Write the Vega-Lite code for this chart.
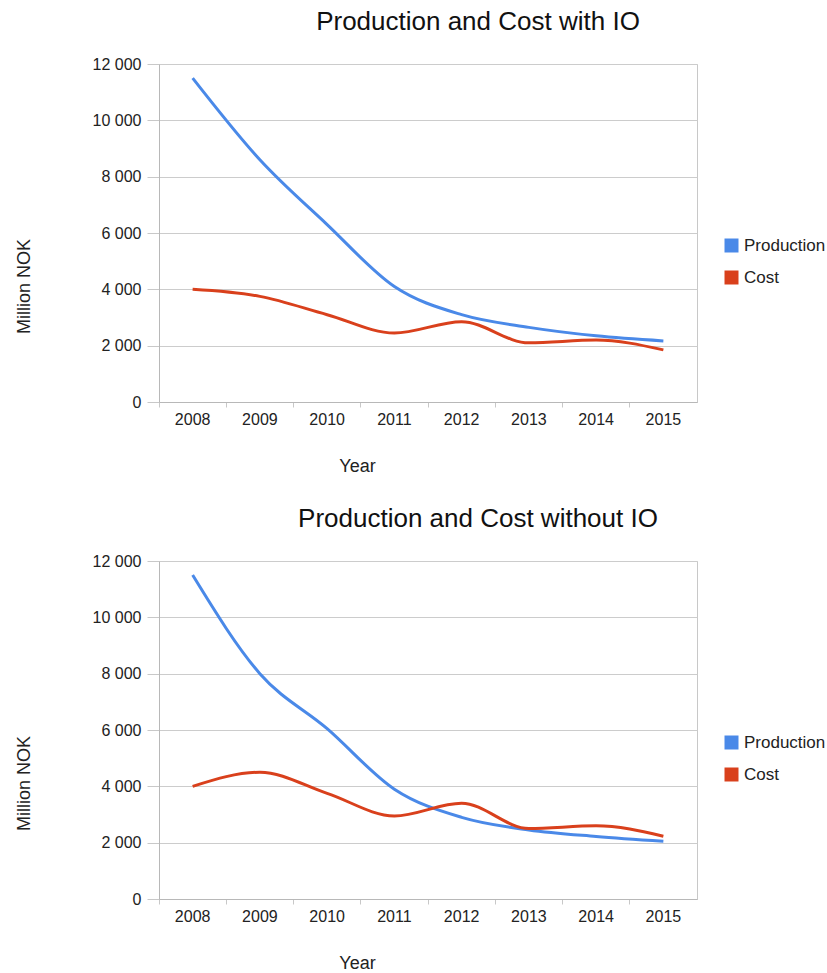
{
  "$schema": "https://vega.github.io/schema/vega-lite/v6.json",
  "background": "white",
  "padding": {"left": 14, "top": 8, "right": 0, "bottom": 0},
  "config": {
    "font": "Liberation Sans",
    "view": {"stroke": "#c8c8c8", "strokeWidth": 1},
    "axis": {
      "labelFont": "Liberation Sans",
      "labelFontSize": 16,
      "labelColor": "#222222",
      "titleFont": "Liberation Sans",
      "titleFontSize": 18,
      "titleFontWeight": "normal",
      "titleColor": "#222222",
      "domainColor": "#b8b8b8",
      "tickColor": "#c8c8c8",
      "gridColor": "#cccccc"
    },
    "axisY": {"tickSize": 12, "labelPadding": 6, "titlePadding": 59, "titleY": 222},
    "axisX": {"tickSize": 5, "labelPadding": 4, "titlePadding": 30, "titleX": 198},
    "title": {"fontSize": 26, "fontWeight": "normal", "color": "#111111", "anchor": "middle", "dx": 50, "offset": 21},
    "legend": {"labelFontSize": 17, "labelColor": "#222222", "labelOffset": 4, "rowPadding": 14},
    "concat": {"spacing": 29}
  },
  "datasets": {
    "flows": [
      {"chart": "with IO", "series": "Production", "year": 2008, "value": 11500},
      {"chart": "with IO", "series": "Production", "year": 2009, "value": 8600},
      {"chart": "with IO", "series": "Production", "year": 2010, "value": 6300},
      {"chart": "with IO", "series": "Production", "year": 2011, "value": 4100},
      {"chart": "with IO", "series": "Production", "year": 2012, "value": 3100},
      {"chart": "with IO", "series": "Production", "year": 2013, "value": 2650},
      {"chart": "with IO", "series": "Production", "year": 2014, "value": 2350},
      {"chart": "with IO", "series": "Production", "year": 2015, "value": 2170},
      {"chart": "with IO", "series": "Cost", "year": 2008, "value": 4000},
      {"chart": "with IO", "series": "Cost", "year": 2009, "value": 3750},
      {"chart": "with IO", "series": "Cost", "year": 2010, "value": 3100},
      {"chart": "with IO", "series": "Cost", "year": 2011, "value": 2450},
      {"chart": "with IO", "series": "Cost", "year": 2012, "value": 2850},
      {"chart": "with IO", "series": "Cost", "year": 2013, "value": 2100},
      {"chart": "with IO", "series": "Cost", "year": 2014, "value": 2200},
      {"chart": "with IO", "series": "Cost", "year": 2015, "value": 1850},
      {"chart": "without IO", "series": "Production", "year": 2008, "value": 11500},
      {"chart": "without IO", "series": "Production", "year": 2009, "value": 8000},
      {"chart": "without IO", "series": "Production", "year": 2010, "value": 6050},
      {"chart": "without IO", "series": "Production", "year": 2011, "value": 3900},
      {"chart": "without IO", "series": "Production", "year": 2012, "value": 2900},
      {"chart": "without IO", "series": "Production", "year": 2013, "value": 2450},
      {"chart": "without IO", "series": "Production", "year": 2014, "value": 2220},
      {"chart": "without IO", "series": "Production", "year": 2015, "value": 2050},
      {"chart": "without IO", "series": "Cost", "year": 2008, "value": 4000},
      {"chart": "without IO", "series": "Cost", "year": 2009, "value": 4500},
      {"chart": "without IO", "series": "Cost", "year": 2010, "value": 3750},
      {"chart": "without IO", "series": "Cost", "year": 2011, "value": 2950},
      {"chart": "without IO", "series": "Cost", "year": 2012, "value": 3400},
      {"chart": "without IO", "series": "Cost", "year": 2013, "value": 2500},
      {"chart": "without IO", "series": "Cost", "year": 2014, "value": 2600},
      {"chart": "without IO", "series": "Cost", "year": 2015, "value": 2230}
    ]
  },
  "data": {"name": "flows"},
  "resolve": {"scale": {"color": "independent"}, "legend": {"color": "independent"}},
  "vconcat": [
    {
      "title": {"text": "Production and Cost with IO"},
      "width": 538,
      "height": 338,
      "transform": [{"filter": "datum.chart === 'with IO'"}],
      "mark": {"type": "line", "interpolate": "monotone", "strokeWidth": 3},
      "encoding": {
        "x": {
          "field": "year", "type": "ordinal", "bandPosition": 0.5,
          "scale": {"type": "band", "paddingInner": 0, "paddingOuter": 0},
          "axis": {"title": "Year", "labelAngle": 0, "bandPosition": 0, "grid": false}
        },
        "y": {
          "field": "value", "type": "quantitative",
          "scale": {"domain": [0, 12000]},
          "axis": {"title": "Million NOK", "values": [0, 2000, 4000, 6000, 8000, 10000, 12000], "labelExpr": "replace(format(datum.value, ','), ',', ' ')"}
        },
        "color": {
          "field": "series", "type": "nominal",
          "scale": {"domain": ["Production", "Cost"], "range": ["#4a89e8", "#d9401c"]},
          "legend": {
            "title": null, "orient": "none", "legendX": 564, "legendY": 173,
            "encode": {"symbols": {"update": {
              "shape": {"value": "square"},
              "size": {"value": 196},
              "fill": {"signal": "datum.value === 'Production' ? '#4a89e8' : '#d9401c'"},
              "fillOpacity": {"value": 1},
              "strokeWidth": {"value": 0}
            }}}
          }
        }
      }
    },
    {
      "title": {"text": "Production and Cost without IO"},
      "width": 538,
      "height": 338,
      "transform": [{"filter": "datum.chart === 'without IO'"}],
      "mark": {"type": "line", "interpolate": "monotone", "strokeWidth": 3},
      "encoding": {
        "x": {
          "field": "year", "type": "ordinal", "bandPosition": 0.5,
          "scale": {"type": "band", "paddingInner": 0, "paddingOuter": 0},
          "axis": {"title": "Year", "labelAngle": 0, "bandPosition": 0, "grid": false}
        },
        "y": {
          "field": "value", "type": "quantitative",
          "scale": {"domain": [0, 12000]},
          "axis": {"title": "Million NOK", "values": [0, 2000, 4000, 6000, 8000, 10000, 12000], "labelExpr": "replace(format(datum.value, ','), ',', ' ')"}
        },
        "color": {
          "field": "series", "type": "nominal",
          "scale": {"domain": ["Production", "Cost"], "range": ["#4a89e8", "#d9401c"]},
          "legend": {
            "title": null, "orient": "none", "legendX": 564, "legendY": 173,
            "encode": {"symbols": {"update": {
              "shape": {"value": "square"},
              "size": {"value": 196},
              "fill": {"signal": "datum.value === 'Production' ? '#4a89e8' : '#d9401c'"},
              "fillOpacity": {"value": 1},
              "strokeWidth": {"value": 0}
            }}}
          }
        }
      }
    }
  ]
}
